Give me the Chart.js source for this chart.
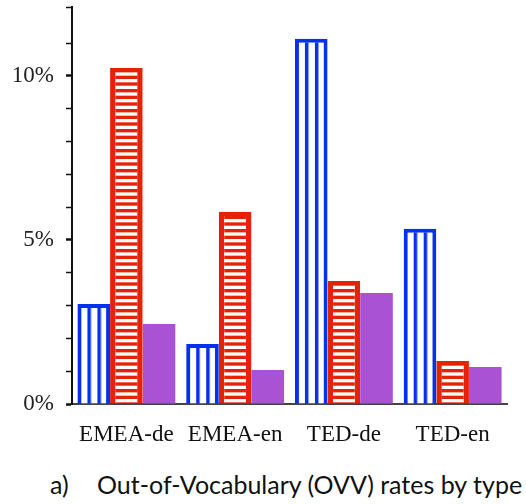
<!DOCTYPE html>
<html>
<head>
<meta charset="utf-8">
<script src="https://cdn.jsdelivr.net/npm/chart.js@4"></script>
<style>
  html, body { margin: 0; padding: 0; background: #fff; }
  #wrap { position: relative; width: 526px; height: 454px; }
  #cap { position: absolute; left: 50px; top: 469px; font-family: Lato, "Open Sans", sans-serif; font-size: 25px; color: #111; white-space: nowrap; }
  #cap span.n { display: inline-block; width: 47px; }
</style>
</head>
<body>
<div id="wrap"><canvas id="c"></canvas></div>
<div id="cap"><span class="n">a)</span>Out-of-Vocabulary (OVV) rates by type</div>
<script>
const categories = ['EMEA-de', 'EMEA-en', 'TED-de', 'TED-en'];
const seriesBlue = [3.05, 1.83, 11.13, 5.34];
const seriesRed = [10.24, 5.85, 3.75, 1.31];
const seriesPurple = [2.44, 1.04, 3.38, 1.13];
const yTickLabels = { 0: '0%', 5: '5%', 10: '10%' };

const BLUE = '#0530ee';
const RED = '#e42208';
const PURPLE = '#aa52d4';
const CAT_PCT = 0.9;

function makeVPattern(ctx, left) {
  const cv = document.createElement('canvas');
  cv.width = 10; cv.height = 4;
  const g = cv.getContext('2d');
  g.fillStyle = '#fff'; g.fillRect(0, 0, 10, 4);
  g.fillStyle = BLUE; g.fillRect(0, 0, 3.5, 4);
  const p = ctx.createPattern(cv, 'repeat');
  if (isFinite(left)) p.setTransform(new DOMMatrix([1, 0, 0, 1, left, 0]));
  return p;
}
function makeHPattern(ctx, base) {
  const cv = document.createElement('canvas');
  cv.width = 4; cv.height = 20;
  const g = cv.getContext('2d');
  g.fillStyle = RED; g.fillRect(0, 0, 4, 20);
  g.fillStyle = '#fff';
  g.fillRect(0, 1.7, 4, 3.3);
  g.fillRect(0, 8.37, 4, 3.3);
  g.fillRect(0, 15.03, 4, 3.3);
  const p = ctx.createPattern(cv, 'repeat');
  if (isFinite(base)) p.setTransform(new DOMMatrix([1, 0, 0, 1, 0, base]));
  return p;
}

function blueFill(c) {
  const chart = c.chart;
  const xs = chart.scales && chart.scales.x;
  let left = 0;
  if (xs && c.dataIndex !== undefined) {
    const center = xs.getPixelForValue(c.dataIndex);
    const cw = xs.width / categories.length;
    left = center - cw * CAT_PCT / 2;
  }
  return makeVPattern(chart.ctx, left);
}
function redFill(c) {
  const chart = c.chart;
  const ys = chart.scales && chart.scales.y;
  let base = 0;
  if (ys) base = ys.getPixelForValue(0);
  return makeHPattern(chart.ctx, base);
}

new Chart(document.getElementById('c'), {
  type: 'bar',
  data: {
    labels: categories,
    datasets: [
      { label: 'blue', data: seriesBlue, backgroundColor: blueFill, borderColor: BLUE, borderWidth: 4 },
      { label: 'red', data: seriesRed, backgroundColor: redFill, borderColor: RED, borderWidth: { left: 5.5, right: 5.5, top: 4 } },
      { label: 'purple', data: seriesPurple, backgroundColor: PURPLE, borderWidth: 0 }
    ]
  },
  options: {
    responsive: true,
    maintainAspectRatio: false,
    animation: false,
    layout: { padding: { top: 7, right: 19, left: 0, bottom: 0 } },
    datasets: { bar: { categoryPercentage: CAT_PCT, barPercentage: 1.0 } },
    plugins: { legend: { display: false }, tooltip: { enabled: false } },
    scales: {
      x: {
        afterFit: s => { s.height = 50; s.paddingLeft = 0; s.paddingRight = 0; },
        grid: { display: false, drawTicks: false },
        border: { display: true, color: '#444', width: 2 },
        ticks: { padding: 17, color: '#111', font: { family: '"Liberation Serif", serif', size: 23 } }
      },
      y: {
        min: 0, max: 12.1,
        afterFit: s => { s.width = 72; s.paddingTop = 0; s.paddingBottom = 0; },
        border: { display: true, color: '#111', width: 2 },
        grid: { drawOnChartArea: false, drawTicks: true, tickLength: 6, tickColor: '#111',
                tickWidth: c => (c.tick && yTickLabels[c.tick.value] !== undefined) ? 2.5 : 1.5 },
        ticks: {
          stepSize: 1, autoSkip: false, padding: 12, color: '#222',
          font: { family: '"Liberation Serif", serif', size: 23 },
          callback: v => (yTickLabels[v] !== undefined ? yTickLabels[v] : '')
        }
      }
    }
  }
});
</script>
</body>
</html>
